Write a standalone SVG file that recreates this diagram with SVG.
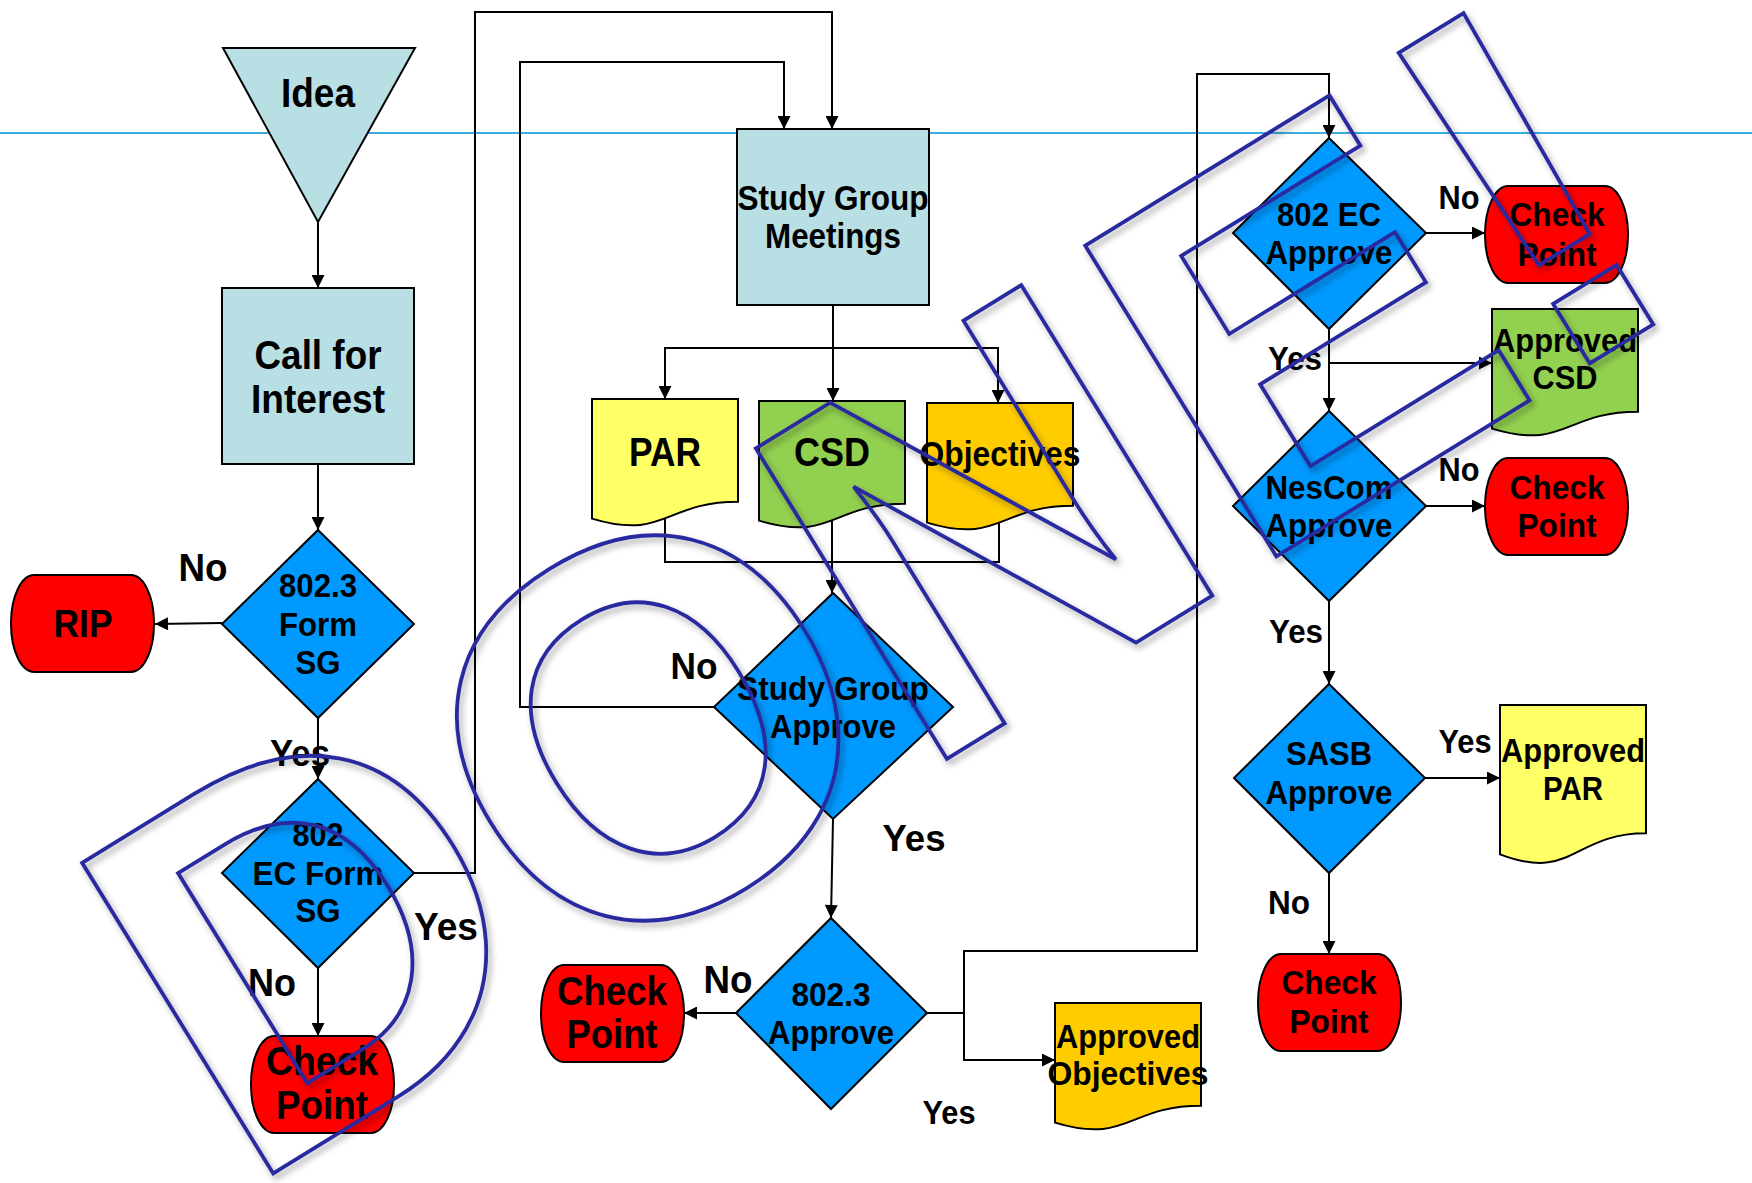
<svg xmlns="http://www.w3.org/2000/svg" width="1752" height="1183" viewBox="0 0 1752 1183">
<style>
.t{font-family:"Liberation Sans",Arial,sans-serif;font-weight:bold;text-anchor:middle;fill:#000}
.ln{fill:none;stroke:#000;stroke-width:2}
.ar{marker-end:url(#ah)}
.teal{fill:#b8dfe3;stroke:#000;stroke-width:2}
.dia{fill:#0099ff;stroke:#000;stroke-width:2}
.red{fill:#ff0000;stroke:#000;stroke-width:2}
.yel{fill:#ffff66;stroke:#000;stroke-width:2}
.grn{fill:#92d050;stroke:#000;stroke-width:2}
.org{fill:#ffcc00;stroke:#000;stroke-width:2}
.done{font-family:"Liberation Sans",Arial,sans-serif;font-weight:bold;fill:none;stroke:#2a2aa0;stroke-width:3.8;stroke-linejoin:miter}
</style>
<defs>
<marker id="ah" viewBox="0 0 10 10" refX="10" refY="5" markerWidth="7" markerHeight="6.5" orient="auto" markerUnits="strokeWidth">
<path d="M0,0 L10,5 L0,10 Z" fill="#000"/>
</marker>
<filter id="sh" x="-10%" y="-10%" width="130%" height="130%">
<feDropShadow dx="3" dy="4" stdDeviation="3" flood-color="#000" flood-opacity="0.35"/>
</filter>
</defs>
<rect width="1752" height="1183" fill="#fff"/>
<line x1="0" y1="133" x2="1752" y2="133" stroke="#3aaee0" stroke-width="2"/>

<g id="connectors">
<path class="ln ar" d="M318 222 V288"/>
<path class="ln ar" d="M318 464 V530"/>
<path class="ln ar" d="M222 623 L155 624"/>
<path class="ln ar" d="M318 718 V779"/>
<path class="ln ar" d="M414 873 H475 V12 H832 V129"/>
<path class="ln ar" d="M318 968 V1036"/>
<path class="ln ar" d="M714 707 H520 V62 H784 V129"/>
<path class="ln ar" d="M833 305 V401"/>
<path class="ln ar" d="M833 348 H665 V399"/>
<path class="ln ar" d="M833 348 H998 V403"/>
<path class="ln" d="M665 505 V562 H999 V505"/>
<path class="ln ar" d="M832 505 V593"/>
<path class="ln ar" d="M833 819 L831 918"/>
<path class="ln ar" d="M736 1013 H684"/>
<path class="ln ar" d="M927 1013 H964 V951 H1197 V74 H1329 V138"/>
<path class="ln ar" d="M964 1013 V1060 H1055"/>
<path class="ln ar" d="M1426 233 H1485"/>
<path class="ln ar" d="M1329 329 V411"/>
<path class="ln ar" d="M1329 363 H1492"/>
<path class="ln ar" d="M1426 506 H1485"/>
<path class="ln ar" d="M1329 601 V684"/>
<path class="ln ar" d="M1425 778 H1500"/>
<path class="ln ar" d="M1329 873 V954"/>
</g>

<g id="idea">
<polygon class="teal" points="223,48 415,48 318,222"/>
<text class="t" x="318" y="107" font-size="40" textLength="74" lengthAdjust="spacingAndGlyphs">Idea</text>
</g>
<g id="call-for-interest">
<rect class="teal" x="222" y="288" width="192" height="176"/>
<text class="t" x="318" y="369" font-size="40" textLength="127" lengthAdjust="spacingAndGlyphs">Call for</text>
<text class="t" x="318" y="413" font-size="40" textLength="134" lengthAdjust="spacingAndGlyphs">Interest</text>
</g>
<g id="form-sg">
<polygon class="dia" points="318,530 414,624 318,718 222,624"/>
<text class="t" x="318" y="597" font-size="34" textLength="78" lengthAdjust="spacingAndGlyphs">802.3</text>
<text class="t" x="318" y="636" font-size="34" textLength="78" lengthAdjust="spacingAndGlyphs">Form</text>
<text class="t" x="318" y="674" font-size="34" textLength="45" lengthAdjust="spacingAndGlyphs">SG</text>
</g>
<g id="rip">
<rect class="red" x="11" y="575" width="143" height="97" rx="23" ry="48"/>
<text class="t" x="83" y="637" font-size="38" textLength="59" lengthAdjust="spacingAndGlyphs">RIP</text>
</g>
<g id="ec-form-sg">
<polygon class="dia" points="318,779 414,873 318,968 222,873"/>
<text class="t" x="318" y="846" font-size="34" textLength="51" lengthAdjust="spacingAndGlyphs">802</text>
<text class="t" x="318" y="885" font-size="34" textLength="131" lengthAdjust="spacingAndGlyphs">EC Form</text>
<text class="t" x="318" y="922" font-size="34" textLength="45" lengthAdjust="spacingAndGlyphs">SG</text>
</g>
<g id="checkpoint-1">
<rect class="red" x="251" y="1036" width="143" height="97" rx="23" ry="48"/>
<text class="t" x="322" y="1075" font-size="41" textLength="112" lengthAdjust="spacingAndGlyphs">Check</text>
<text class="t" x="322" y="1119" font-size="41" textLength="92" lengthAdjust="spacingAndGlyphs">Point</text>
</g>
<g id="sg-meetings">
<rect class="teal" x="737" y="129" width="192" height="176"/>
<text class="t" x="833" y="210" font-size="35" textLength="191" lengthAdjust="spacingAndGlyphs">Study Group</text>
<text class="t" x="833" y="248" font-size="35" textLength="136" lengthAdjust="spacingAndGlyphs">Meetings</text>
</g>
<g id="par">
<path class="yel" d="M592 399 H738 V501.7 C665 501.7 665 540.7 592 518.6 Z"/>
<text class="t" x="665" y="466" font-size="40" textLength="72" lengthAdjust="spacingAndGlyphs">PAR</text>
</g>
<g id="csd">
<path class="grn" d="M759 401 H905 V503.7 C832 503.7 832 542.7 759 520.6 Z"/>
<text class="t" x="832" y="466" font-size="40" textLength="76" lengthAdjust="spacingAndGlyphs">CSD</text>
</g>
<g id="objectives">
<path class="org" d="M927 403 H1073 V505.7 C1000 505.7 1000 544.7 927 522.6 Z"/>
<text class="t" x="1000" y="466" font-size="35" textLength="161" lengthAdjust="spacingAndGlyphs">Objectives</text>
</g>
<g id="sg-approve">
<polygon class="dia" points="833,593 953,707 833,819 714,707"/>
<text class="t" x="833" y="700" font-size="34" textLength="192" lengthAdjust="spacingAndGlyphs">Study Group</text>
<text class="t" x="833" y="738" font-size="34" textLength="126" lengthAdjust="spacingAndGlyphs">Approve</text>
</g>
<g id="approve-8023">
<polygon class="dia" points="831,918 927,1013 831,1109 736,1013"/>
<text class="t" x="831" y="1006" font-size="34" textLength="79" lengthAdjust="spacingAndGlyphs">802.3</text>
<text class="t" x="831" y="1044" font-size="34" textLength="126" lengthAdjust="spacingAndGlyphs">Approve</text>
</g>
<g id="checkpoint-2">
<rect class="red" x="541" y="965" width="143" height="97" rx="23" ry="48"/>
<text class="t" x="612" y="1005" font-size="41" textLength="110" lengthAdjust="spacingAndGlyphs">Check</text>
<text class="t" x="612" y="1048" font-size="41" textLength="91" lengthAdjust="spacingAndGlyphs">Point</text>
</g>
<g id="approved-objectives">
<path class="org" d="M1055 1003 H1201 V1105.7 C1128 1105.7 1128 1144.7 1055 1122.6 Z"/>
<text class="t" x="1128" y="1048" font-size="34" textLength="144" lengthAdjust="spacingAndGlyphs">Approved</text>
<text class="t" x="1128" y="1085" font-size="34" textLength="161" lengthAdjust="spacingAndGlyphs">Objectives</text>
</g>
<g id="ec-approve">
<polygon class="dia" points="1329,138 1426,233 1329,329 1233,233"/>
<text class="t" x="1329" y="226" font-size="34" textLength="104" lengthAdjust="spacingAndGlyphs">802 EC</text>
<text class="t" x="1329" y="264" font-size="34" textLength="127" lengthAdjust="spacingAndGlyphs">Approve</text>
</g>
<g id="checkpoint-3">
<rect class="red" x="1485" y="186" width="143" height="97" rx="23" ry="48"/>
<text class="t" x="1557" y="226" font-size="34" textLength="95" lengthAdjust="spacingAndGlyphs">Check</text>
<text class="t" x="1557" y="266" font-size="34" textLength="79" lengthAdjust="spacingAndGlyphs">Point</text>
</g>
<g id="approved-csd">
<path class="grn" d="M1492 309 H1638 V411.7 C1565 411.7 1565 450.7 1492 428.6 Z"/>
<text class="t" x="1565" y="352" font-size="34" textLength="144" lengthAdjust="spacingAndGlyphs">Approved</text>
<text class="t" x="1565" y="389" font-size="34" textLength="65" lengthAdjust="spacingAndGlyphs">CSD</text>
</g>
<g id="nescom-approve">
<polygon class="dia" points="1329,411 1426,506 1329,601 1233,506"/>
<text class="t" x="1329" y="499" font-size="34" textLength="127" lengthAdjust="spacingAndGlyphs">NesCom</text>
<text class="t" x="1329" y="537" font-size="34" textLength="127" lengthAdjust="spacingAndGlyphs">Approve</text>
</g>
<g id="checkpoint-4">
<rect class="red" x="1485" y="458" width="143" height="97" rx="23" ry="48"/>
<text class="t" x="1557" y="499" font-size="34" textLength="95" lengthAdjust="spacingAndGlyphs">Check</text>
<text class="t" x="1557" y="537" font-size="34" textLength="79" lengthAdjust="spacingAndGlyphs">Point</text>
</g>
<g id="sasb-approve">
<polygon class="dia" points="1329,684 1425,778 1329,873 1234,778"/>
<text class="t" x="1329" y="765" font-size="34" textLength="86" lengthAdjust="spacingAndGlyphs">SASB</text>
<text class="t" x="1329" y="804" font-size="34" textLength="127" lengthAdjust="spacingAndGlyphs">Approve</text>
</g>
<g id="approved-par">
<path class="yel" d="M1500 705 H1646 V833.3 C1573 833.3 1573 882.1 1500 854.4 Z"/>
<text class="t" x="1573" y="762" font-size="34" textLength="144" lengthAdjust="spacingAndGlyphs">Approved</text>
<text class="t" x="1573" y="800" font-size="34" textLength="60" lengthAdjust="spacingAndGlyphs">PAR</text>
</g>
<g id="checkpoint-5">
<rect class="red" x="1258" y="954" width="143" height="97" rx="23" ry="48"/>
<text class="t" x="1329" y="994" font-size="34" textLength="95" lengthAdjust="spacingAndGlyphs">Check</text>
<text class="t" x="1329" y="1033" font-size="34" textLength="79" lengthAdjust="spacingAndGlyphs">Point</text>
</g>

<g id="labels">
<text class="t" x="203" y="581" font-size="38" textLength="49" lengthAdjust="spacingAndGlyphs">No</text>
<text class="t" x="300" y="766" font-size="37" textLength="60" lengthAdjust="spacingAndGlyphs">Yes</text>
<text class="t" x="446" y="940" font-size="38" textLength="64" lengthAdjust="spacingAndGlyphs">Yes</text>
<text class="t" x="272" y="996" font-size="38" textLength="48" lengthAdjust="spacingAndGlyphs">No</text>
<text class="t" x="694" y="679" font-size="37" textLength="47" lengthAdjust="spacingAndGlyphs">No</text>
<text class="t" x="914" y="851" font-size="37" textLength="63" lengthAdjust="spacingAndGlyphs">Yes</text>
<text class="t" x="728" y="993" font-size="38" textLength="49" lengthAdjust="spacingAndGlyphs">No</text>
<text class="t" x="949" y="1124" font-size="33" textLength="53" lengthAdjust="spacingAndGlyphs">Yes</text>
<text class="t" x="1459" y="209" font-size="33" textLength="41" lengthAdjust="spacingAndGlyphs">No</text>
<text class="t" x="1295" y="370" font-size="33" textLength="54" lengthAdjust="spacingAndGlyphs">Yes</text>
<text class="t" x="1459" y="481" font-size="33" textLength="41" lengthAdjust="spacingAndGlyphs">No</text>
<text class="t" x="1296" y="643" font-size="33" textLength="54" lengthAdjust="spacingAndGlyphs">Yes</text>
<text class="t" x="1465" y="753" font-size="33" textLength="53" lengthAdjust="spacingAndGlyphs">Yes</text>
<text class="t" x="1289" y="914" font-size="33" textLength="42" lengthAdjust="spacingAndGlyphs">No</text>
</g>

<g id="done-overlay" filter="url(#sh)">
<text class="done" transform="translate(243,1192) rotate(-31.6)" font-size="530" dx="0 0 -4 4 0">DONE!</text>
</g>
</svg>
